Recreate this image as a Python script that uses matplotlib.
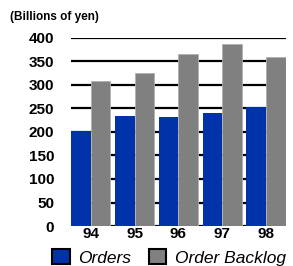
import matplotlib
matplotlib.use("Agg")
import matplotlib.pyplot as plt
from matplotlib.patches import Patch

years = ["94", "95", "96", "97", "98"]
orders = [202, 234, 231, 240, 252]
backlog = [308, 325, 364, 386, 359]
yticks = [0, 50, 100, 150, 200, 250, 300, 350, 400]

plt.rcParams['font.family'] = ['Liberation Sans', 'DejaVu Sans']

blue = '#0033aa'
gray = '#808080'

fig = plt.figure(figsize=(2.93, 2.66), dpi=100)
ax = fig.add_axes([0.242, 0.150, 0.734, 0.709])

x = list(range(len(years)))
w = 0.45
ax.bar([i - w / 2 for i in x], orders, width=w, color=blue, zorder=3)
ax.bar([i + w / 2 for i in x], backlog, width=w, color=gray,
       edgecolor='#b0b0b0', linewidth=0.6, zorder=3)

# grid lines behind the bars
for v in yticks:
    ax.axhline(v, color='black', linewidth=1.6, zorder=1)

ax.set_xlim(-w, len(years) - 1 + w)
ax.set_ylim(0, 400)
ax.set_yticks(yticks)
ax.set_yticklabels([str(v) for v in yticks], fontsize=11, fontweight='bold')
ax.set_xticks(x)
ax.set_xticklabels(years, fontsize=11, fontweight='bold')
ax.tick_params(axis='y', length=0, pad=12)
ax.tick_params(axis='x', length=0, pad=1)
for s in ax.spines.values():
    s.set_visible(False)

fig.text(0.034, 0.935, "(Billions of yen)", fontsize=8.5, fontweight='bold',
         va='center', ha='left')

handles = [Patch(facecolor=blue, edgecolor='black', linewidth=1.5),
           Patch(facecolor=gray, edgecolor='black', linewidth=1.5)]
fig.legend(handles, ["Orders", "Order Backlog"], loc='center left',
           bbox_to_anchor=(0.178, 0.032), ncol=2, frameon=False,
           prop={'style': 'italic', 'size': 12.5},
           handlelength=1.0, handleheight=0.87, handletextpad=0.5,
           columnspacing=1.0, borderpad=0, borderaxespad=0)

fig.savefig("out.png", dpi=100)
